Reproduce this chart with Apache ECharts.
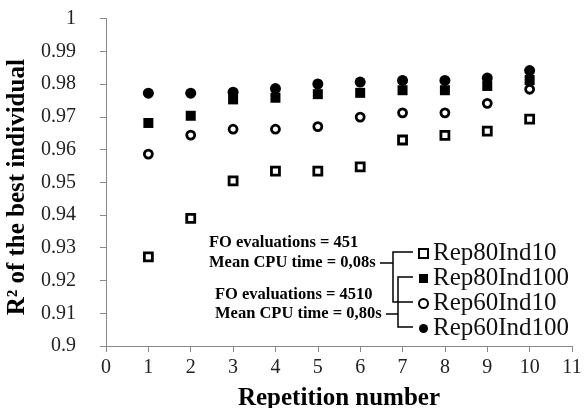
<!DOCTYPE html>
<html><head><meta charset="utf-8">
<script src="https://cdn.jsdelivr.net/npm/echarts@6/dist/echarts.min.js"></script>
<style>html,body{margin:0;padding:0;background:#fff}#c{width:584px;height:408px}</style>
</head><body><div id="c"></div>
<script>
const repetitions = [1,2,3,4,5,6,7,8,9,10];
const rep80Ind10  = [0.9272,0.9390,0.9504,0.9534,0.9534,0.9547,0.9629,0.9643,0.9656,0.9693];
const rep80Ind100 = [0.9681,0.9703,0.9753,0.9758,0.9769,0.9773,0.9781,0.9781,0.9794,0.9812];
const rep60Ind10  = [0.9586,0.9644,0.9662,0.9662,0.9670,0.9699,0.9712,0.9712,0.9741,0.9784];
const rep60Ind100 = [0.9772,0.9772,0.9775,0.9786,0.9800,0.9806,0.9811,0.9811,0.9818,0.9841];
const seriesNames = ['Rep80Ind10','Rep80Ind100','Rep60Ind10','Rep60Ind100'];
const annotations = ['FO evaluations = 451','Mean CPU time = 0,08s','FO evaluations = 4510','Mean CPU time = 0,80s'];

const serif = '"Liberation Serif","DejaVu Serif",serif';
const pair = ys => repetitions.map((x,i)=>[x, ys[i]]);
const openStyle = {color:'#fff', borderColor:'#000', borderWidth:2.8, opacity:1};
const fillStyle = {color:'#000', borderColor:'#000', borderWidth:0, opacity:1};

const chart = echarts.init(document.getElementById('c'));
const lineStyle = {stroke:'#000', lineWidth:1.5, fill:null};
const annFont = 'bold 16.5px ' + serif;
chart.setOption({
  animation:false,
  grid:{left:106, right:12, top:18.5, bottom:62, containLabel:false, outerBoundsMode:'none'},
  xAxis:{type:'value', min:0, max:11, interval:1,
    name:'Repetition number', nameLocation:'middle', nameGap:40,
    nameTextStyle:{fontFamily:serif, fontWeight:'bold', fontSize:25, color:'#000'},
    axisLine:{lineStyle:{color:'#888', width:1}},
    axisTick:{show:true, length:6, lineStyle:{color:'#888'}},
    axisLabel:{fontFamily:serif, fontSize:20, color:'#222', margin:12},
    splitLine:{show:false}},
  yAxis:{type:'value', min:0.9, max:1, interval:0.01,
    name:'R² of the best individual', nameLocation:'middle', nameGap:71,
    nameTextStyle:{fontFamily:serif, fontWeight:'bold', fontSize:25, color:'#000', padding:[0,10,0,0]},
    axisLine:{show:true, lineStyle:{color:'#888', width:1}},
    axisTick:{show:true, length:6, lineStyle:{color:'#888'}},
    axisLabel:{fontFamily:serif, fontSize:20, color:'#222', margin:30,
      formatter: v => String(parseFloat(v.toFixed(2)))},
    splitLine:{show:false}},
  legend:{orient:'vertical', left:413, top:236, itemWidth:9, itemHeight:9, itemGap:0,
    data:seriesNames,
    textStyle:{fontFamily:serif, fontSize:25, color:'#111', lineHeight:25}},
  series:[
    {name:seriesNames[0], type:'scatter', symbol:'rect', symbolSize:8, itemStyle:openStyle, data:pair(rep80Ind10)},
    {name:seriesNames[1], type:'scatter', symbol:'rect', symbolSize:10, itemStyle:fillStyle, data:pair(rep80Ind100)},
    {name:seriesNames[2], type:'scatter', symbol:'circle', symbolSize:8, itemStyle:openStyle, data:pair(rep60Ind10), z:3},
    {name:seriesNames[3], type:'scatter', symbol:'circle', symbolSize:11, itemStyle:fillStyle, data:pair(rep60Ind100)}
  ],
  graphic:[
    {type:'text', x:209, y:243, style:{text:annotations[0], font:annFont, fill:'#000', verticalAlign:'middle'}},
    {type:'text', x:209, y:263, style:{text:annotations[1], font:annFont, fill:'#000', verticalAlign:'middle'}},
    {type:'text', x:215, y:295, style:{text:annotations[2], font:annFont, fill:'#000', verticalAlign:'middle'}},
    {type:'text', x:215, y:314, style:{text:annotations[3], font:annFont, fill:'#000', verticalAlign:'middle'}},
    {type:'polyline', shape:{points:[[380,263],[393,263]]}, style:lineStyle},
    {type:'polyline', shape:{points:[[413,252],[393,252],[393,302],[413,302]]}, style:lineStyle},
    {type:'polyline', shape:{points:[[386,314],[398,314]]}, style:lineStyle},
    {type:'polyline', shape:{points:[[413,277],[398,277],[398,327],[413,327]]}, style:lineStyle}
  ]
});
</script></body></html>
